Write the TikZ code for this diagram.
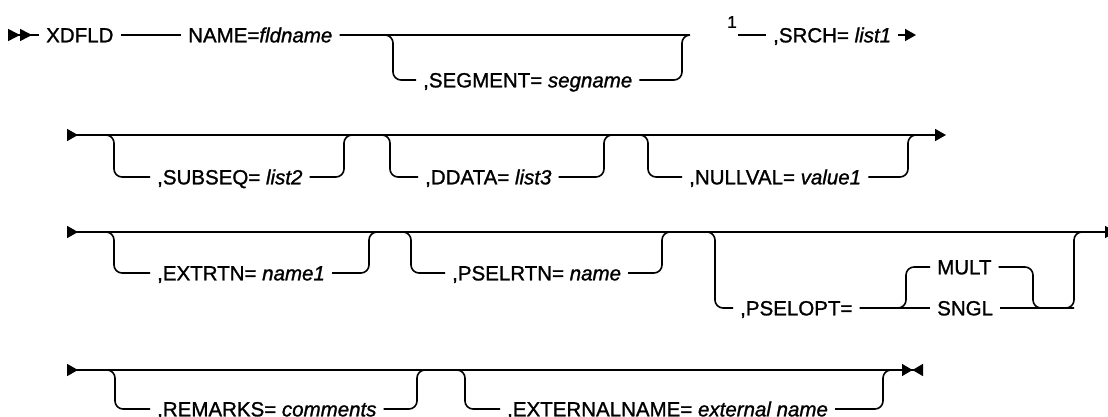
\documentclass[tikz,border=0pt]{standalone}
\usepackage{fontspec}
\setmainfont[FakeBold=1.2]{Liberation Sans}
\usetikzlibrary{arrows.meta}
\begin{document}
\begin{tikzpicture}[x=1pt,y=-1pt,
  every node/.style={font=\fontsize{20.5}{24}\selectfont},
  kw/.style={anchor=west,inner xsep=7pt,inner ysep=0pt,text height=14.7pt,text depth=0pt},
  rail/.style={line width=1.6pt},
  railbend/.style={rail,rounded corners=8pt},
  syn/.tip={Triangle[width=12pt,length=11pt,sep=0pt]}]
  \useasboundingbox (0,0) rectangle (1108,417);
  % row 1
  \coordinate (r1) at (8,35);
  \coordinate (j1) at (690,35);
  \coordinate (e1) at (916,35);
  \coordinate (segL) at (393,80);
  \coordinate (segR) at (682,80);
  \node[kw] (xdfld) at (39,35) {XDFLD};
  \node[kw] (name) at (181,35) {NAME=\textit{fldname}};
  \node[kw] (segment) at (416,80) {,SEGMENT= \textit{segname}};
  \node[font=\fontsize{17}{19}\selectfont,inner sep=1pt] (fn) at (732,22) {1};
  \node[kw] (srch) at (766,35) {,SRCH= \textit{list1}};
  \draw[rail,{syn[reversed,length=12pt]syn[reversed,length=12pt]}-] (r1) -- (xdfld.west);
  \draw[rail] (xdfld.east) -- (name.west);
  \draw[rail] (name.east) -- (j1);
  \draw[railbend] (name.east) -| (segL) -- (segment.west);
  \draw[railbend] (segment.east) -- (segR) |- (j1);
  \draw[rail] (fn.east |- j1) -- (srch.west);
  \draw[rail,-syn] (srch.east) -- (e1);
  % row 2
  \coordinate (r2) at (67,135);
  \coordinate (j2) at (925,135);
  \coordinate (e2) at (946,135);
  \coordinate (subseqL) at (114,177);
  \coordinate (subseqR) at (344,177);
  \coordinate (ddataL) at (390,177);
  \coordinate (ddataR) at (604,177);
  \coordinate (nullvalL) at (648,177);
  \coordinate (nullvalR) at (908,177);
  \node[kw] (subseq) at (150,177) {,SUBSEQ= \textit{list2}};
  \node[kw] (ddata) at (418,177) {,DDATA= \textit{list3}};
  \node[kw] (nullval) at (682,177) {,NULLVAL= \textit{value1}};
  \draw[rail,{syn[reversed]}-syn] (r2) -- (e2);
  \draw[railbend] (r2) -| (subseqL) -- (subseq.west);
  \draw[railbend] (subseq.east) -- (subseqR) |- (ddataL |- r2);
  \draw[railbend] (r2) -| (ddataL) -- (ddata.west);
  \draw[railbend] (ddata.east) -- (ddataR) |- (nullvalL |- r2);
  \draw[railbend] (r2) -| (nullvalL) -- (nullval.west);
  \draw[railbend] (nullval.east) -- (nullvalR) |- (j2);
  % row 3
  \coordinate (r3) at (67,232);
  \coordinate (j3) at (1098,232);
  \coordinate (e3) at (1116,232);
  \coordinate (extrtnL) at (114,273);
  \coordinate (extrtnR) at (369,273);
  \coordinate (pselrtnL) at (411,273);
  \coordinate (pselrtnR) at (662,273);
  \coordinate (psoptL) at (715,308);
  \coordinate (psoptR) at (1074,308);
  \coordinate (multL) at (906,267);
  \coordinate (multR) at (1033,267);
  \node[kw] (extrtn) at (150,273) {,EXTRTN= \textit{name1}};
  \node[kw] (pselrtn) at (445,273) {,PSELRTN= \textit{name}};
  \node[kw] (pselopt) at (733,308) {,PSELOPT=};
  \node[kw] (mult) at (930,267) {MULT};
  \node[kw] (sngl) at (930,308) {SNGL};
  \draw[rail,{syn[reversed]}-syn] (r3) -- (e3);
  \draw[railbend] (r3) -| (extrtnL) -- (extrtn.west);
  \draw[railbend] (extrtn.east) -- (extrtnR) |- (pselrtnL |- r3);
  \draw[railbend] (r3) -| (pselrtnL) -- (pselrtn.west);
  \draw[railbend] (pselrtn.east) -- (pselrtnR) |- (psoptL |- r3);
  \draw[railbend] (r3) -| (psoptL) -- (pselopt.west);
  \draw[rail] (pselopt.east) -- (sngl.west);
  \draw[railbend] (pselopt.east) -| (multL) -- (mult.west);
  \draw[railbend] (mult.east) -- (multR) |- (psoptR);
  \draw[railbend] (sngl.east) -- (psoptR) |- (j3);
  % row 4
  \coordinate (r4) at (67,370);
  \coordinate (j4) at (895,370);
  \coordinate (e4) at (923,370);
  \coordinate (remarksL) at (115,409);
  \coordinate (remarksR) at (417,409);
  \coordinate (extnameL) at (465,409);
  \coordinate (extnameR) at (883,409);
  \node[kw] (remarks) at (150,409) {,REMARKS= \textit{comments}};
  \node[kw] (extname) at (500,409) {,EXTERNALNAME= \textit{external name}};
  \draw[rail,{syn[reversed]}-{syn[length=10.5pt]syn[reversed,length=10.5pt]}] (r4) -- (e4);
  \draw[railbend] (r4) -| (remarksL) -- (remarks.west);
  \draw[railbend] (remarks.east) -- (remarksR) |- (extnameL |- r4);
  \draw[railbend] (r4) -| (extnameL) -- (extname.west);
  \draw[railbend] (extname.east) -- (extnameR) |- (j4);
\end{tikzpicture}
\end{document}
